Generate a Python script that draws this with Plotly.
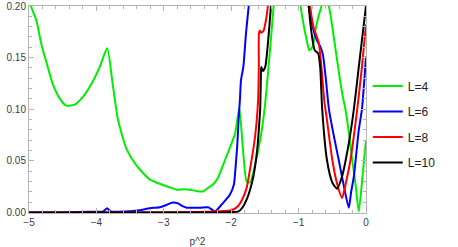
import plotly.graph_objects as go

# ---- data ----
labels = ["L=4", "L=6", "L=8", "L=10"]
colors = ["#00ee00", "#0000ff", "#ff0000", "#000000"]

x_L4 = [-5.0, -4.97, -4.89, -4.82, -4.74, -4.65, -4.55, -4.45, -4.32, -4.2, -4.07, -3.95, -3.84,
        -3.76, -3.68, -3.55, -3.4, -3.21, -3.03, -2.9, -2.81, -2.7, -2.61, -2.5, -2.41, -2.34,
        -2.27, -2.2, -2.09, -2.0, -1.94, -1.88, -1.83, -1.77, -1.72, -1.65, -1.57, -1.505, -1.44,
        -1.37, -1.3, -1.15, -1.0, -0.97, -0.92, -0.87, -0.84, -0.79, -0.75, -0.7, -0.66, -0.61,
        -0.55, -0.5, -0.45, -0.355, -0.305, -0.25, -0.205, -0.155, -0.107, -0.05, 0.0]
y_L4 = [0.215, 0.2, 0.186, 0.164, 0.145, 0.125, 0.111, 0.1035, 0.1045, 0.112, 0.125, 0.141, 0.159,
        0.125, 0.09, 0.061, 0.045, 0.032, 0.027, 0.024, 0.022, 0.0225, 0.022, 0.0205, 0.0205, 0.024,
        0.027, 0.033, 0.051, 0.066, 0.077, 0.101, 0.065, 0.03, 0.029, 0.045, 0.07, 0.1, 0.145,
        0.2, 0.25, 0.32, 0.25, 0.2, 0.18, 0.164, 0.157, 0.161, 0.177, 0.191, 0.2, 0.215,
        0.2, 0.18, 0.157, 0.116, 0.1, 0.075, 0.051, 0.027, 0.001, 0.036, 0.07]

x_L6 = [-5.0, -4.5, -4.1, -3.9, -3.84, -3.79, -3.5, -3.36, -3.21, -3.06, -2.95, -2.88, -2.79,
        -2.72, -2.66, -2.55, -2.46, -2.34, -2.24, -2.14, -2.02, -1.96, -1.94, -1.91, -1.89, -1.87,
        -1.855, -1.82, -1.78, -1.74, -1.7, -1.3, -0.9, -0.85, -0.78, -0.73, -0.68, -0.64, -0.6,
        -0.55, -0.48, -0.405, -0.33, -0.255, -0.22, -0.18, -0.107, -0.06, 0.0]
y_L6 = [0.0, 0.0, 0.0007, 0.001, 0.004, 0.001, 0.0012, 0.002, 0.004, 0.005, 0.0075, 0.0094, 0.0087,
        0.006, 0.0045, 0.0045, 0.0045, 0.005, 0.001, 0.0077, 0.017, 0.027, 0.04, 0.065, 0.09, 0.11,
        0.128, 0.141, 0.174, 0.2, 0.23, 0.35, 0.25, 0.2, 0.177, 0.167, 0.161, 0.153, 0.132,
        0.1, 0.075, 0.051, 0.026, 0.0045, 0.02, 0.035, 0.08, 0.1, 0.151]

x_L8 = [-5.0, -3.5, -2.5, -2.2, -2.0, -1.9, -1.84, -1.77, -1.72, -1.67, -1.645, -1.62, -1.6,
        -1.59, -1.585, -1.57, -1.555, -1.52, -1.485, -1.455, -1.4, -1.2, -0.9, -0.83, -0.78,
        -0.7, -0.66, -0.62, -0.58, -0.5, -0.43, -0.355, -0.3, -0.23, -0.13, -0.06, 0.0]
y_L8 = [0.0, 0.0, 0.0003, 0.001, 0.002, 0.006, 0.012, 0.024, 0.042, 0.062, 0.074, 0.09, 0.11,
        0.141, 0.175, 0.176, 0.174, 0.176, 0.186, 0.2, 0.24, 0.35, 0.25, 0.2, 0.18,
        0.164, 0.14, 0.109, 0.09, 0.051, 0.028, 0.014, 0.028, 0.051, 0.1, 0.141, 0.182]

x_L10 = [-5.0, -2.2, -2.0, -1.89, -1.83, -1.77, -1.72, -1.67, -1.63, -1.605, -1.585, -1.57,
         -1.56, -1.555, -1.53, -1.495, -1.455, -1.41, -1.35, -1.2, -0.9, -0.85, -0.8, -0.76,
         -0.71, -0.68, -0.65, -0.58, -0.5, -0.43, -0.355, -0.255, -0.18, -0.107, 0.0]
y_L10 = [0.0, 0.0, 0.0003, 0.001, 0.005, 0.0126, 0.022, 0.035, 0.052, 0.067, 0.085, 0.1,
         0.13, 0.141, 0.137, 0.141, 0.164, 0.2, 0.25, 0.35, 0.25, 0.2, 0.17, 0.157,
         0.154, 0.141, 0.1, 0.051, 0.029, 0.023, 0.035, 0.067, 0.1, 0.141, 0.2]

series_x = [x_L4, x_L6, x_L8, x_L10]
series_y = [y_L4, y_L6, y_L8, y_L10]

x_tick_vals = [-5, -4, -3, -2, -1, 0]
y_tick_vals = [0.0, 0.05, 0.10, 0.15, 0.20]
x_title = "p^2"

# ---- figure ----
fig = go.Figure()
for xs, ys, name, col in zip(series_x, series_y, labels, colors):
    fig.add_trace(go.Scatter(x=xs, y=ys, mode="lines", name=name, legendgroup=name,
                             line=dict(color=col, width=2, shape="spline", smoothing=0.6)))

axis_common = dict(
    showgrid=False, zeroline=False, showline=True, linecolor="#b5b5b5", linewidth=1,
    mirror="ticks", ticks="inside", ticklen=5, tickcolor="#b5b5b5", tickwidth=1,
    tickfont=dict(family="Liberation Sans, Arial", size=10, color="#404040"),
    automargin=False,
)

fig.update_xaxes(range=[-5, 0], tickvals=x_tick_vals,
                 minor=dict(dtick=0.2, ticks="inside", ticklen=3, tickcolor="#b5b5b5", showgrid=False),
                 title=dict(text=x_title, font=dict(family="Liberation Sans, Arial", size=10, color="#404040"),
                            standoff=11),
                 **axis_common)
fig.update_yaxes(range=[-0.0006, 0.2], tickvals=y_tick_vals, tickformat=".2f",
                 minor=dict(dtick=0.01, tick0=0, ticks="inside", ticklen=3, tickcolor="#b5b5b5", showgrid=False),
                 **axis_common)

fig.update_layout(
    width=458, height=247,
    margin=dict(l=29, r=92, t=6, b=34, autoexpand=False),
    plot_bgcolor="white", paper_bgcolor="white",
    showlegend=True,
    legend=dict(xref="container", yref="container", x=0.803, y=0.496, xanchor="left", yanchor="middle",
                font=dict(family="Liberation Sans, Arial", size=12, color="#222222"),
                tracegroupgap=6.5, bgcolor="rgba(0,0,0,0)"),
)

fig.write_html("out.html", config={"displayModeBar": False},
               post_script="document.body.style.margin='0';document.body.style.padding='0';")
